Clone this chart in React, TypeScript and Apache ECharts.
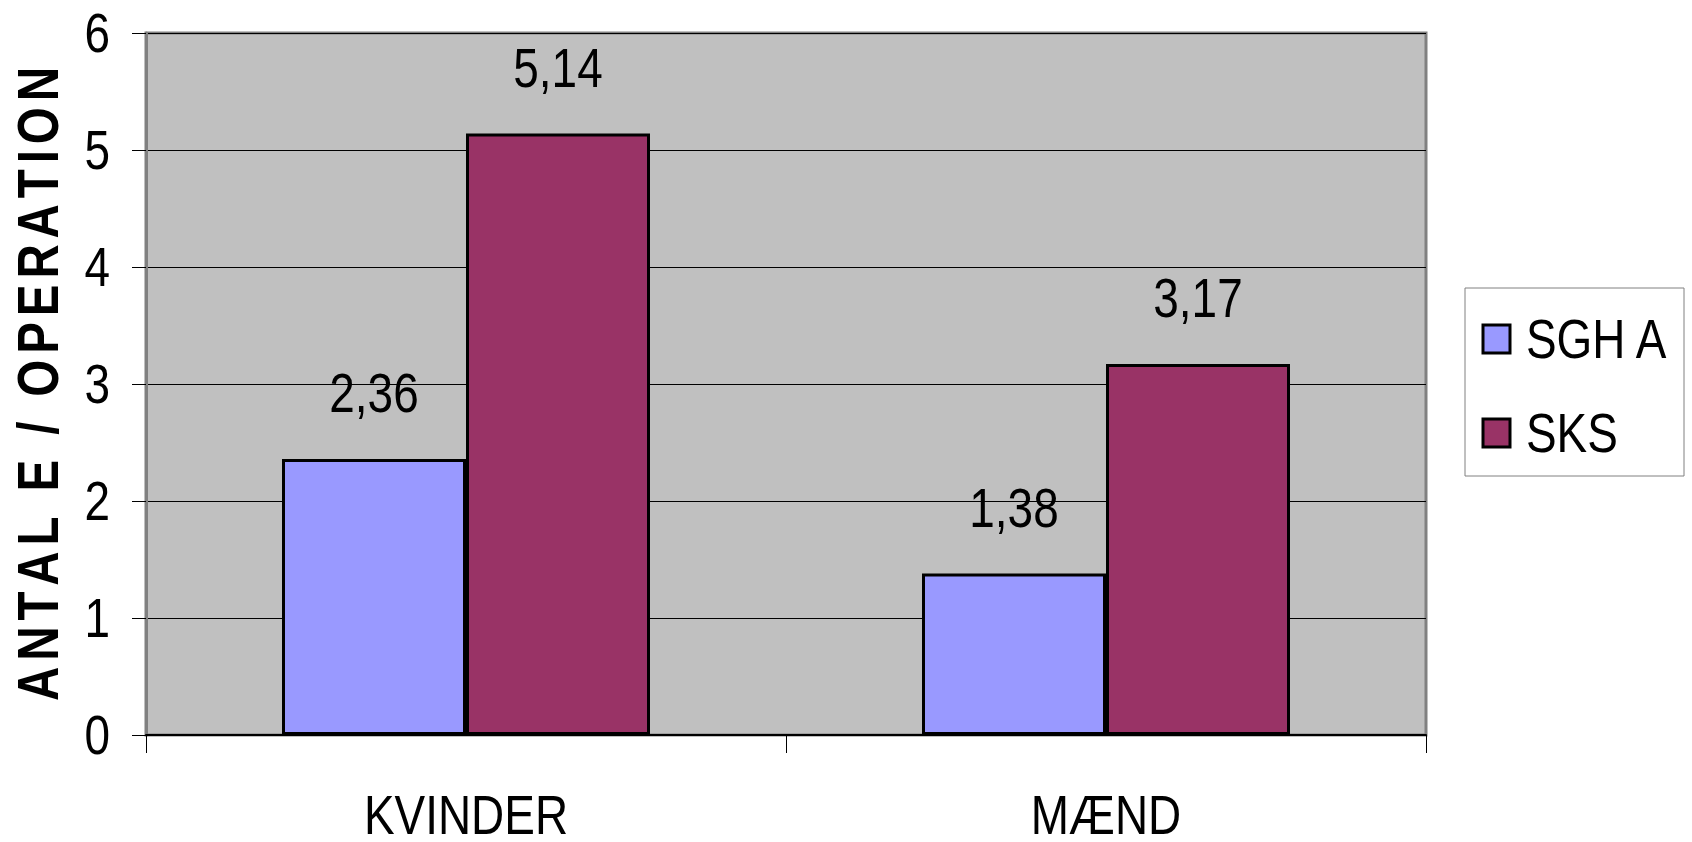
import React, { useEffect, useRef } from "react";
import * as echarts from "echarts";

const categories = ["KVINDER", "MÆND"];
const seriesNames = ["SGH A", "SKS"];
const sghA = [2.36, 1.38];
const sks = [5.14, 3.17];
const yTicks = [0, 1, 2, 3, 4, 5, 6];
const yTitle = "ANTAL E / OPERATION";
const colors = ["#9999FF", "#993366"];

const FONT_FAMILY = '"Liberation Sans", Arial, sans-serif';
const NARROW = 0.82;
const FS = 56;

export default function App() {
  const ref = useRef<HTMLDivElement>(null);
  useEffect(() => {
    if (!ref.current) return;
    const chart = echarts.init(ref.current, undefined, { renderer: "svg" });
    const seriesData = [sghA, sks];
    const gridLeft = 146;
    chart.setOption({
      animation: false,
      backgroundColor: "#fff",
      grid: {
        left: gridLeft,
        top: 33,
        right: 266,
        bottom: 107,
        show: true,
        backgroundColor: "#C0C0C0",
        borderColor: "#808080",
        borderWidth: 3,
      },
      xAxis: {
        type: "category",
        data: categories,
        axisLine: { show: true, lineStyle: { color: "#000", width: 2 } },
        axisTick: { show: true, length: 18, lineStyle: { color: "#000", width: 1 } },
        axisLabel: { show: false },
        splitLine: { show: false },
      },
      yAxis: {
        type: "value",
        min: yTicks[0],
        max: yTicks[yTicks.length - 1],
        interval: 1,
        axisLine: { show: true, lineStyle: { color: "#808080", width: 3 } },
        axisTick: { show: true, length: 14, lineStyle: { color: "#000", width: 1 } },
        axisLabel: { show: false },
        splitLine: { show: true, lineStyle: { color: "#000", width: 1 } },
      },
      series: seriesNames.map((name, i) => ({
        name,
        type: "bar",
        data: seriesData[i],
        barGap: "0%",
        barCategoryGap: "42.5%",
        itemStyle: { color: colors[i], borderColor: "#000", borderWidth: 3 },
      })),
    });

    const narrowText = (text: string, x: number, y: number, align: string, vAlign: string) => ({
      type: "text",
      x,
      y,
      scaleX: NARROW,
      silent: true,
      style: {
        text,
        font: `${FS}px ${FONT_FAMILY}`,
        fill: "#000",
        textAlign: align,
        textVerticalAlign: vAlign,
      },
    });

    const elements: any[] = [];
    // y tick labels
    yTicks.forEach((v) => {
      const py = chart.convertToPixel({ yAxisIndex: 0 }, v) as number;
      elements.push(narrowText(String(v), gridLeft - 36, py, "right", "middle"));
    });
    // category labels
    const baseY = chart.convertToPixel({ yAxisIndex: 0 }, 0) as number;
    categories.forEach((c) => {
      const px = chart.convertToPixel({ xAxisIndex: 0 }, c) as number;
      elements.push(narrowText(c, px, baseY + 52, "center", "top"));
    });
    // data labels placed from the library's bar layout
    const model: any = (chart as any).getModel();
    seriesNames.forEach((_, si) => {
      const data = model.getSeriesByIndex(si).getData();
      for (let j = 0; j < data.count(); j++) {
        const l = data.getItemLayout(j);
        const top = Math.min(l.y, l.y + l.height);
        const cx = l.x + l.width / 2;
        const label = Number(seriesData[si][j]).toFixed(2).replace(".", ",");
        elements.push(narrowText(label, cx, top - 38, "center", "bottom"));
      }
    });

    // y axis title with letter spacing
    const titleFont = `bold 58px ${FONT_FAMILY}`;
    const ctx = document.createElement("canvas").getContext("2d")!;
    ctx.font = titleFont;
    const chars = Array.from(yTitle);
    const widths = chars.map((ch) => ctx.measureText(ch).width * NARROW);
    const totalLen = 634;
    const sumW = widths.reduce((a, b) => a + b, 0);
    const spacing = (totalLen - sumW) / (chars.length - 1);
    let cursor = -totalLen / 2;
    const titleChildren: any[] = [];
    chars.forEach((ch, k) => {
      titleChildren.push({
        type: "text",
        x: cursor,
        y: 0,
        scaleX: NARROW,
        silent: true,
        style: {
          text: ch,
          font: titleFont,
          fill: "#000",
          textAlign: "left",
          textVerticalAlign: "middle",
        },
      });
      cursor += widths[k] + spacing;
    });
    elements.push({
      type: "group",
      x: 38,
      y: 384,
      rotation: Math.PI / 2,
      children: titleChildren,
    });

    // legend box
    const legX = 1465;
    const legY = 288;
    elements.push({
      type: "rect",
      shape: { x: legX, y: legY, width: 219, height: 188 },
      style: { fill: "#fff", stroke: "#808080", lineWidth: 1 },
      silent: true,
    });
    const itemCenters = [339, 433];
    seriesNames.forEach((name, i) => {
      elements.push({
        type: "rect",
        shape: { x: 1483, y: itemCenters[i] - 14, width: 27, height: 28 },
        style: { fill: colors[i], stroke: "#000", lineWidth: 3 },
        silent: true,
      });
      elements.push(narrowText(name, 1526, itemCenters[i], "left", "middle"));
    });

    chart.setOption({ graphic: elements });
    return () => chart.dispose();
  }, []);
  return (
    <div
      ref={ref}
      style={{ position: "absolute", left: 0, top: 0, width: 1692, height: 842 }}
    />
  );
}
